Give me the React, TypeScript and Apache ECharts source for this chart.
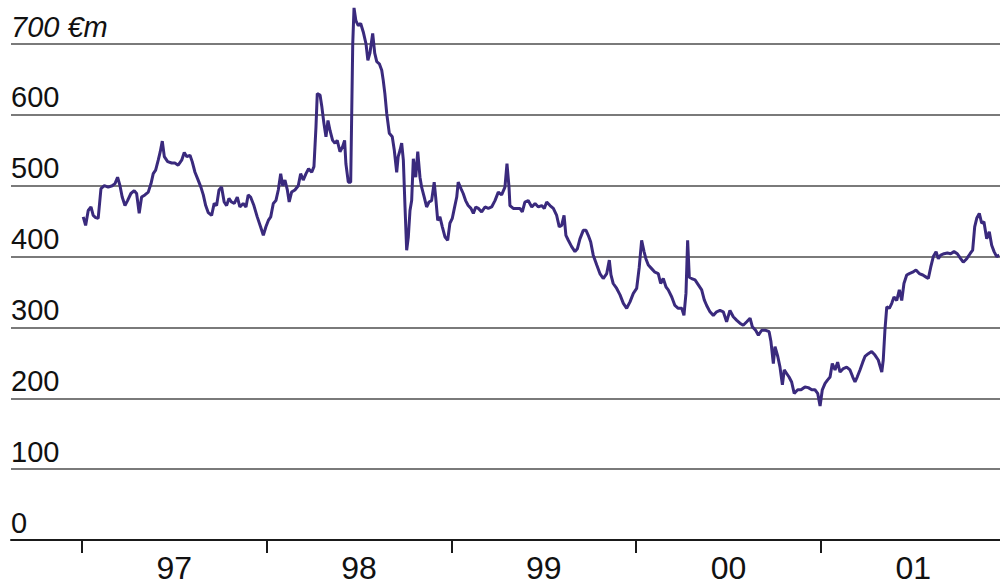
import React, { useEffect, useRef } from "react";
import * as echarts from "echarts";

// Year ticks (start of each year) and their short labels
const years = [1997, 1998, 1999, 2000, 2001];
const yearLabels = ["97", "98", "99", "00", "01"];
const yMin = 0;
const yMax = 700;
const yStep = 100;
const unit = "€m";

// Time in decimal years
const time = [
  1997.007, 1997.020, 1997.034, 1997.049, 1997.061, 1997.074, 1997.088, 1997.103, 1997.121, 1997.142,
  1997.164, 1997.179, 1997.193, 1997.206, 1997.218, 1997.233, 1997.247, 1997.265, 1997.283, 1997.296,
  1997.310, 1997.323, 1997.341, 1997.359, 1997.374, 1997.386, 1997.399, 1997.413, 1997.424, 1997.435,
  1997.446, 1997.464, 1997.486, 1997.503, 1997.521, 1997.540, 1997.554, 1997.568, 1997.585, 1997.597,
  1997.612, 1997.626, 1997.644, 1997.657, 1997.670, 1997.684, 1997.702, 1997.716, 1997.729, 1997.742,
  1997.756, 1997.770, 1997.783, 1997.796, 1997.810, 1997.825,
  1997.841, 1997.855, 1997.873, 1997.888, 1997.900, 1997.913, 1997.931, 1997.949, 1997.967, 1997.982,
  1997.996, 1998.009, 1998.022, 1998.036, 1998.050, 1998.063, 1998.076, 1998.087, 1998.099, 1998.112,
  1998.122, 1998.135, 1998.153, 1998.171, 1998.184, 1998.198, 1998.213, 1998.227, 1998.244, 1998.256,
  1998.267, 1998.274, 1998.289, 1998.299, 1998.310, 1998.321, 1998.332, 1998.343, 1998.357, 1998.370,
  1998.382, 1998.397, 1998.411, 1998.422, 1998.429, 1998.442, 1998.455, 1998.466, 1998.473, 1998.483,
  1998.496, 1998.509, 1998.523, 1998.538, 1998.548, 1998.559, 1998.574, 1998.585, 1998.596, 1998.610,
  1998.623, 1998.631, 1998.640, 1998.650, 1998.664,
  1998.680, 1998.691, 1998.704, 1998.712, 1998.722, 1998.731, 1998.740, 1998.749, 1998.758, 1998.767,
  1998.776, 1998.785, 1998.794, 1998.807, 1998.818, 1998.830, 1998.839, 1998.853, 1998.866, 1998.879,
  1998.893, 1998.907, 1998.915, 1998.926, 1998.938, 1998.951, 1998.965, 1998.980, 1998.992, 1999.005,
  1999.016, 1999.029, 1999.037, 1999.052, 1999.064, 1999.077, 1999.091, 1999.106, 1999.119, 1999.132,
  1999.146, 1999.164, 1999.182, 1999.200, 1999.218, 1999.236, 1999.254, 1999.272, 1999.290, 1999.301,
  1999.312, 1999.317, 1999.335, 1999.353, 1999.371, 1999.384, 1999.398, 1999.416, 1999.435, 1999.453,
  1999.471, 1999.489, 1999.503,
  1999.516, 1999.534, 1999.552, 1999.570, 1999.584, 1999.597, 1999.610, 1999.620, 1999.633, 1999.651,
  1999.669, 1999.682, 1999.696, 1999.714, 1999.729, 1999.741, 1999.754, 1999.768, 1999.787, 1999.804,
  1999.822, 1999.841, 1999.855, 1999.864, 1999.876, 1999.895, 1999.913, 1999.931, 1999.949, 1999.967,
  1999.985, 2000.003, 2000.017, 2000.030, 2000.043, 2000.053, 2000.066, 2000.084, 2000.102, 2000.120,
  2000.133, 2000.147, 2000.162, 2000.174, 2000.193, 2000.210, 2000.228, 2000.247, 2000.259, 2000.270,
  2000.279, 2000.288, 2000.301, 2000.319, 2000.337,
  2000.355, 2000.369, 2000.382, 2000.400, 2000.418, 2000.436, 2000.454, 2000.472, 2000.490, 2000.508,
  2000.526, 2000.545, 2000.562, 2000.580, 2000.599, 2000.617, 2000.629, 2000.647, 2000.662, 2000.680,
  2000.702, 2000.720, 2000.730, 2000.743, 2000.752, 2000.767, 2000.779, 2000.792, 2000.802, 2000.815,
  2000.828, 2000.842, 2000.856, 2000.875, 2000.893, 2000.914, 2000.932, 2000.951, 2000.968, 2000.983,
  2000.996, 2001.008, 2001.023, 2001.037, 2001.050, 2001.062, 2001.077, 2001.091, 2001.104, 2001.122,
  2001.140, 2001.158,
  2001.173, 2001.185, 2001.197, 2001.212, 2001.227, 2001.239, 2001.257, 2001.275, 2001.293, 2001.311,
  2001.330, 2001.338, 2001.347, 2001.357, 2001.371, 2001.384, 2001.396, 2001.411, 2001.425, 2001.438,
  2001.450, 2001.465, 2001.479, 2001.497, 2001.515, 2001.533, 2001.552, 2001.570, 2001.582, 2001.595,
  2001.609, 2001.624, 2001.636, 2001.649, 2001.667, 2001.685, 2001.703, 2001.721, 2001.739, 2001.757,
  2001.771, 2001.790, 2001.808, 2001.822, 2001.833, 2001.844, 2001.858, 2001.871, 2001.883, 2001.898,
  2001.912, 2001.925, 2001.938, 2001.952, 2001.966,
];

// Value in € million
const value = [
  456, 444, 465, 470, 458, 455, 454, 496, 500, 498,
  500, 503, 512, 500, 484, 472, 479, 489, 493, 489,
  461, 484, 487, 491, 503, 517, 522, 536, 548, 563,
  541, 534, 532, 532, 529, 536, 547, 541, 543, 534,
  519, 510, 498, 487, 472, 462, 458, 475, 472, 494,
  498, 477, 472, 482, 477, 475,
  484, 470, 475, 470, 487, 484, 472, 456, 442, 430,
  442, 451, 456, 475, 479, 494, 517, 500, 508, 494,
  477, 491, 494, 500, 517, 508, 517, 524, 519, 527,
  583, 630, 628, 611, 588, 569, 592, 578, 564, 560,
  564, 548, 555, 564, 531, 505, 505, 700, 751, 733,
  726, 729, 717, 700, 677, 687, 715, 687, 675, 672,
  663, 649, 630, 602, 574,
  569, 550, 519, 541, 550, 560, 536, 470, 409, 428,
  465, 479, 538, 512, 548, 512, 498, 484, 470, 477,
  479, 505, 484, 451, 456, 442, 428, 423, 447, 454,
  468, 484, 505, 496, 489, 479, 472, 468, 461, 470,
  468, 463, 470, 468, 470, 479, 491, 487, 498, 531,
  498, 472, 468, 468, 468, 463, 477, 479, 470, 475,
  470, 472, 468,
  477, 472, 468, 458, 442, 444, 458, 430, 423, 414,
  407, 411, 425, 437, 437, 430, 421, 402, 388, 376,
  369, 376, 395, 374, 362, 355, 346, 334, 327, 336,
  348, 355, 385, 423, 407, 397, 388, 383, 378, 376,
  362, 369, 357, 353, 343, 331, 327, 327, 317, 348,
  423, 371, 369, 367, 360,
  353, 339, 331, 322, 317, 322, 324, 322, 308, 324,
  315, 310, 306, 303, 308, 313, 301, 296, 289, 296,
  296, 294, 280, 249, 273, 259, 244, 219, 240, 235,
  230, 223, 207, 212, 212, 216, 215, 212, 212, 207,
  189, 212, 221, 226, 230, 249, 240, 251, 237, 242,
  244, 240,
  230, 223, 230, 240, 251, 259, 263, 266, 261, 254,
  237, 254, 296, 329, 327, 334, 343, 338, 353, 338,
  362, 374, 376, 378, 381, 376, 374, 371, 369, 385,
  400, 407, 397, 402, 404, 405, 404, 407, 404, 397,
  392, 397, 404, 409, 442, 454, 461, 447, 449, 425,
  435, 416, 407, 400, 402,
];

export default function App() {
  const ref = useRef<HTMLDivElement>(null);
  useEffect(() => {
    if (!ref.current) return;
    const chart = echarts.init(ref.current, null, { renderer: "svg" });
    const font = "'Liberation Sans', Arial, Helvetica, sans-serif";
    chart.setOption({
      animation: false,
      backgroundColor: "#ffffff",
      grid: { left: 11, right: 0, top: 44, bottom: 47, containLabel: false },
      xAxis: {
        type: "value",
        min: 1996.616,
        max: 2001.97,
        axisLine: { show: true, lineStyle: { color: "#1a1a1a", width: 2 } },
        axisTick: {
          show: true,
          customValues: years,
          length: 13,
          lineStyle: { color: "#1a1a1a", width: 2 },
        },
        axisLabel: {
          customValues: years.map((y) => y + 0.5),
          formatter: (v: number) => yearLabels[years.indexOf(Math.floor(v))] ?? "",
          fontSize: 32,
          color: "#111111",
          margin: 12,
          fontFamily: font,
        },
        splitLine: { show: false },
      },
      yAxis: {
        type: "value",
        min: yMin,
        max: yMax,
        interval: yStep,
        axisLine: { show: false },
        axisTick: { show: false },
        axisLabel: {
          inside: true,
          margin: 0,
          verticalAlign: "bottom",
          padding: [0, 0, 3, 0],
          fontSize: 29,
          color: "#111111",
          fontFamily: font,
          formatter: (v: number) => (v === yMax ? `{i|${v} ${unit}}` : String(v)),
          rich: {
            i: { fontStyle: "italic", fontSize: 29, color: "#111111", fontFamily: font },
          },
        },
        splitLine: { show: true, lineStyle: { color: "#7a7a7a", width: 2 } },
      },
      series: [
        {
          type: "line",
          data: time.map((t, i) => [t, value[i]]),
          symbol: "none",
          showSymbol: false,
          clip: false,
          lineStyle: { color: "#3a2a7d", width: 3 },
        },
      ],
    });
    return () => chart.dispose();
  }, []);
  return (
    <div
      ref={ref}
      style={{ position: "fixed", left: 0, top: 0, width: 1000, height: 587 }}
    />
  );
}
